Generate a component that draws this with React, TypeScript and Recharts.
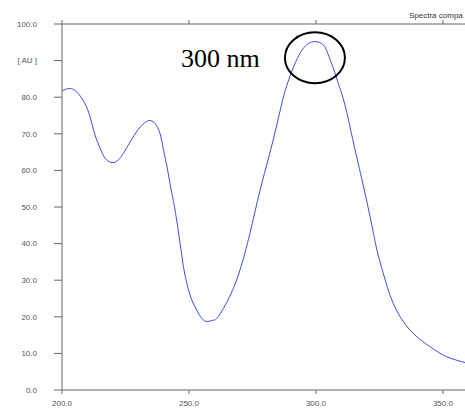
import { LineChart, Line, XAxis, YAxis, ReferenceDot } from "recharts";

// wavelength (nm) / absorbance (AU)
const wavelengths = [
  200, 203, 206, 209, 211, 213, 215, 217, 220, 223, 226, 229, 231, 234, 236.6, 238.6,
  240, 241.5, 243, 244.5, 246.5, 248, 249.5, 251.1, 253, 255, 257.3, 259.6, 261.5, 266,
  270, 274, 278, 281.5, 284.5, 287, 289, 291.3, 294, 296.5, 299.5, 302.9, 304.8, 306.8,
  308.8, 310.7, 312.7, 314.7, 318, 321.3, 324, 326.5, 330.4, 337, 345, 351.5, 358.7,
];
const absorbance = [
  81.7, 82.4, 81.3, 78.3, 74.7, 69.7, 66.1, 63.3, 62.1, 63.5, 66.8, 70.2, 72, 73.6, 72.8, 70.1,
  65.5, 60.4, 54.6, 49.2, 40.1, 33, 28.2, 24.6, 21.9, 19.6, 18.7, 19.1, 20.0, 25.5,
  32.6, 42.8, 54.6, 63.8, 72.2, 79.5, 84.2, 88.5, 92.3, 94.4, 95.2, 94.3, 91.7, 88,
  83.8, 79.7, 74.2, 67.8, 57.8, 47.4, 38.3, 31.9, 23.7, 16.4, 11.8, 9.1, 7.5,
];
const xTicks = [200, 250, 300, 350];
const yTicks = [0, 10, 20, 30, 40, 50, 60, 70, 80, 90, 100];
const peak = { nm: 299.6, au: 90.8, label: "300 nm" };

const data = wavelengths.map((nm, i) => ({ nm, au: absorbance[i] }));

const AXIS = "#666";
const tickStyle = { fontSize: 8, fill: "#555", fontFamily: "Liberation Sans, Arial, sans-serif" };

export default function App() {
  return (
    <div style={{ position: "absolute", left: 0, top: 0, width: 465, height: 409, background: "#fff" }}>
      <LineChart width={465} height={409} data={data} margin={{ top: 14, right: 0, left: 0, bottom: 0 }}>
        <XAxis
          dataKey="nm"
          type="number"
          domain={[200, 358.7]}
          allowDataOverflow
          ticks={xTicks}
          tickFormatter={(v) => Number(v).toFixed(1)}
          tick={tickStyle}
          tickSize={4}
          tickMargin={6}
          height={19}
          stroke={AXIS}
        />
        <XAxis
          xAxisId="top"
          orientation="top"
          dataKey="nm"
          type="number"
          domain={[200, 358.7]}
          allowDataOverflow
          ticks={xTicks}
          tickFormatter={() => ""}
          tickSize={4}
          height={10}
          stroke={AXIS}
        />
        <YAxis
          type="number"
          domain={[0, 100]}
          ticks={yTicks}
          tickFormatter={(v) => (v === 90 ? "[ AU ]" : Number(v).toFixed(1))}
          tick={tickStyle}
          tickSize={8}
          tickMargin={17}
          width={62}
          stroke={AXIS}
        />
        <Line
          type="natural"
          dataKey="au"
          stroke="#3b4ee0"
          strokeWidth={1}
          dot={false}
          isAnimationActive={false}
        />
        <ReferenceDot
          x={peak.nm}
          y={peak.au}
          ifOverflow="visible"
          shape={(p: any) => (
            <ellipse cx={p.cx} cy={p.cy} rx={30} ry={25.5} fill="none" stroke="#000" strokeWidth={2} />
          )}
        />
      </LineChart>
      <svg
        width={465}
        height={409}
        style={{ position: "absolute", left: 0, top: 0, pointerEvents: "none" }}
      >
        <text x={181} y={67} fontSize={26} fontFamily="Liberation Serif, Times New Roman, serif" fill="#000">
          {peak.label}
        </text>
        <text x={409} y={18} fontSize={8} fontFamily="Liberation Sans, Arial, sans-serif" fill="#333">
          Spectra compa
        </text>
      </svg>
    </div>
  );
}
